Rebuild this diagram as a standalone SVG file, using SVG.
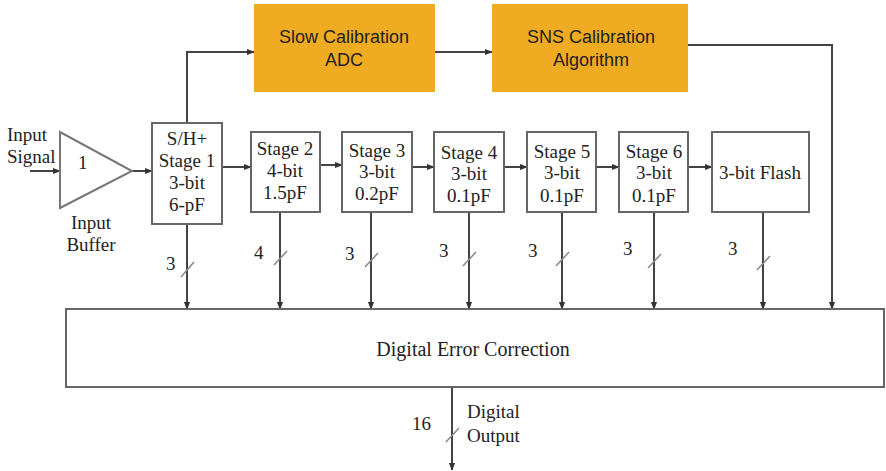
<svg xmlns="http://www.w3.org/2000/svg" width="886" height="471" viewBox="0 0 886 471">
<defs>
<marker id="ah" viewBox="0 0 10 10" refX="9" refY="5" markerWidth="8" markerHeight="8" orient="auto" markerUnits="userSpaceOnUse">
<path d="M0,1 L10,5 L0,9 z" fill="#333"/>
</marker>
<style>
.box{fill:#fff;stroke:#666;stroke-width:2}
.cal{fill:#EFAB22;stroke:none}
.t{font-family:"Liberation Serif","DejaVu Serif",serif;font-size:19px;fill:#222;text-anchor:middle}
.ts{font-family:"Liberation Serif","DejaVu Serif",serif;font-size:19px;fill:#222}
.tc{font-family:"Liberation Sans","DejaVu Sans",sans-serif;font-size:18px;fill:#222;text-anchor:middle}
.ln{fill:none;stroke:#444;stroke-width:2}
.ar{fill:none;stroke:#444;stroke-width:2;marker-end:url(#ah)}
.sl{stroke:#888;stroke-width:1.5}
</style>
</defs>
<rect width="886" height="471" fill="#fff"/>

<g id="connectors">
<path class="ar" d="M30,171 H60"/>
<path class="ar" d="M132,171 H152"/>
<path class="ar" d="M222,167 H251"/>
<path class="ar" d="M320,165 H342"/>
<path class="ar" d="M412,167 H434"/>
<path class="ar" d="M504,167 H527"/>
<path class="ar" d="M596,167 H619"/>
<path class="ar" d="M688,167 H712"/>
<path class="ar" d="M187,123 V52 H254"/>
<path class="ar" d="M435,52 H492"/>
<path class="ln" d="M688,45 H832 V300"/>
<path class="ar" d="M832,290 V309"/>
<path class="ar" d="M187,224 V309"/>
<path class="ar" d="M280,212 V309"/>
<path class="ar" d="M371,212 V309"/>
<path class="ar" d="M469,212 V309"/>
<path class="ar" d="M562,212 V309"/>
<path class="ar" d="M654,212 V309"/>
<path class="ar" d="M763,212 V309"/>
<path class="ar" d="M452,387 V470"/>
<line class="sl" x1="181" y1="277" x2="194" y2="262"/>
<line class="sl" x1="274" y1="265" x2="287" y2="251"/>
<line class="sl" x1="365" y1="267" x2="378" y2="253"/>
<line class="sl" x1="463" y1="266" x2="476" y2="252"/>
<line class="sl" x1="556" y1="266" x2="569" y2="252"/>
<line class="sl" x1="648" y1="268" x2="661" y2="254"/>
<line class="sl" x1="757" y1="270" x2="770" y2="256"/>
<line class="sl" x1="446" y1="442" x2="459" y2="428"/>
<text class="ts" x="166" y="270">3</text>
<text class="ts" x="254" y="259">4</text>
<text class="ts" x="345" y="260">3</text>
<text class="ts" x="439" y="257">3</text>
<text class="ts" x="528" y="257">3</text>
<text class="ts" x="623" y="255">3</text>
<text class="ts" x="728" y="255">3</text>
<text class="ts" x="412" y="430">16</text>
<text class="ts" x="467" y="418">Digital</text>
<text class="ts" x="467" y="442">Output</text>
</g>

<g id="input">
<text class="ts" x="7" y="141">Input</text>
<text class="ts" x="7" y="163">Signal</text>
</g>

<g id="buffer">
<polygon points="60,132 60,208 132,171" fill="#fff" stroke="#777" stroke-width="2"/>
<text class="ts" x="78" y="169">1</text>
<text class="t" x="91" y="229">Input</text>
<text class="t" x="91" y="251">Buffer</text>
</g>

<g id="stage1">
<rect class="box" x="152" y="123" width="70" height="101"/>
<text class="t" x="187" y="145">S/H+</text>
<text class="t" x="187" y="167">Stage 1</text>
<text class="t" x="187" y="189">3-bit</text>
<text class="t" x="187" y="211">6-pF</text>
</g>

<g id="stage2">
<rect class="box" x="251" y="132" width="69" height="80"/>
<text class="t" x="285" y="155">Stage 2</text>
<text class="t" x="285" y="177">4-bit</text>
<text class="t" x="285" y="199">1.5pF</text>
</g>

<g id="stage3">
<rect class="box" x="342" y="132" width="70" height="80"/>
<text class="t" x="377" y="157">Stage 3</text>
<text class="t" x="377" y="178">3-bit</text>
<text class="t" x="377" y="200">0.2pF</text>
</g>

<g id="stage4">
<rect class="box" x="434" y="132" width="70" height="80"/>
<text class="t" x="469" y="159">Stage 4</text>
<text class="t" x="469" y="180">3-bit</text>
<text class="t" x="469" y="202">0.1pF</text>
</g>

<g id="stage5">
<rect class="box" x="527" y="132" width="69" height="80"/>
<text class="t" x="562" y="158">Stage 5</text>
<text class="t" x="562" y="179">3-bit</text>
<text class="t" x="562" y="202">0.1pF</text>
</g>

<g id="stage6">
<rect class="box" x="619" y="132" width="69" height="80"/>
<text class="t" x="654" y="158">Stage 6</text>
<text class="t" x="654" y="179">3-bit</text>
<text class="t" x="654" y="202">0.1pF</text>
</g>

<g id="flash">
<rect class="box" x="712" y="132" width="97" height="80"/>
<text class="t" x="760" y="179">3-bit Flash</text>
</g>

<g id="slowcal">
<rect class="cal" x="254" y="4" width="181" height="88"/>
<text class="tc" x="344" y="43">Slow Calibration</text>
<text class="tc" x="344" y="66">ADC</text>
</g>

<g id="snscal">
<rect class="cal" x="492" y="4" width="196" height="88"/>
<text class="tc" x="591" y="43">SNS Calibration</text>
<text class="tc" x="591" y="66">Algorithm</text>
</g>

<g id="dec">
<rect class="box" x="66" y="309" width="818" height="78"/>
<text class="t" x="473" y="356" style="font-size:20px">Digital Error Correction</text>
</g>
</svg>
